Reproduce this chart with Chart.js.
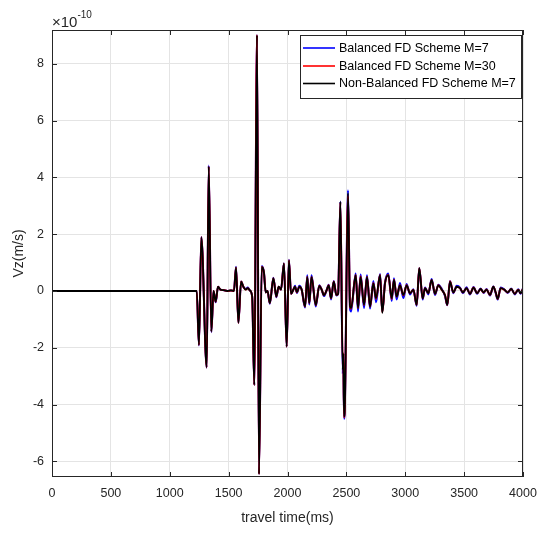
<!DOCTYPE html>
<html>
<head>
<meta charset="utf-8">
<title>Vz travel time</title>
<script src="https://cdn.jsdelivr.net/npm/chart.js@4.4.1/dist/chart.umd.min.js"></script>
<style>
    html, body { margin: 0; padding: 0; background: #ffffff; }
    #wrap { width: 549px; height: 540px; }
</style>
</head>
<body>
<div id="wrap"><canvas id="vzChart" width="549" height="540"></canvas></div>
<script>

/* =========================
DATA  (Vz in units of 1e-10 m/s)
========================= */

const timeMs = [
    0, 1229, 1248, 1268, 1314, 1331, 1353, 1372, 1390, 1410,
    1430, 1460, 1490, 1520, 1545, 1563, 1583, 1606, 1625, 1645,
    1663, 1680, 1700, 1718, 1741, 1758, 1781, 1800, 1815, 1830,
    1850, 1880, 1905, 1925, 1945, 1970, 1993, 2012, 2030, 2050,
    2064, 2080, 2100, 2120, 2149, 2168, 2185, 2204, 2240, 2270,
    2290, 2310, 2330, 2350, 2370, 2393, 2415, 2430, 2449, 2469,
    2474, 2480, 2485, 2514, 2531, 2540, 2579, 2599, 2621, 2650,
    2675, 2701, 2729, 2752, 2786, 2805, 2828, 2856, 2885, 2904,
    2927, 2955, 2984, 3012, 3040, 3069, 3097, 3119, 3148, 3168,
    3196, 3224, 3253, 3281, 3309, 3338, 3357, 3380, 3408, 3437,
    3465, 3490, 3520, 3550, 3580, 3610, 3640, 3665, 3690, 3720,
    3748, 3768, 3785, 3810, 3840, 3870, 3900, 3930, 3960, 3980,
    4000
];

const vzBalancedM7 = [
    0, 0, -1.92, 1.90, -2.70, 4.42, -1.45, 0.0, -0.40, 0.15,
    0.05, 0.03, 0.0, 0.02, 0.0, 0.85, -1.12, 0.33, 0.15, 0.07,
    0.12, 0.02, -0.2, -3.31, 9.01, -6.45, 0.88, 0.65, -0.05, 0.0,
    -0.45, 0.47, -0.22, 0.15, 0.05, 0.98, -1.96, 1.10, -0.1, 0.05,
    0.18, -0.07, 0.18, 0.05, -0.58, 0.55, -0.48, 0.55, -0.55, 0.2,
    0.05, -0.18, 0.0, 0.22, -0.3, 0.35, -0.16, -0.1, 3.15, -2.92,
    -2.3, -4.5, -4.35, 3.55, -0.62, -0.72, 0.62, -0.72, 0.58, -0.6,
    0.55, -0.62, 0.35, -0.4, 0.6, -0.72, 0.3, 0.62, -0.35, 0.45,
    -0.3, 0.28, -0.25, 0.25, -0.12, 0.06, -0.52, 0.8, -0.3, 0.12,
    -0.12, 0.42, -0.14, 0.22, 0.08, -0.18, -0.5, 0.35, -0.08, 0.18,
    0.12, -0.08, 0.13, -0.12, 0.14, -0.1, 0.09, -0.07, 0.07, -0.16,
    0.16, -0.07, -0.3, 0.12, 0.06, -0.07, 0.09, -0.12, 0.06, -0.1,
    0.1
];

const vzBalancedM30 = [
    0, 0, -1.90, 1.89, -2.69, 4.38, -1.43, 0.0, -0.38, 0.15,
    0.05, 0.03, 0.0, 0.02, 0.0, 0.83, -1.12, 0.33, 0.15, 0.05,
    0.1, 0.02, -0.2, -3.31, 9.01, -6.45, 0.85, 0.65, -0.05, 0.0,
    -0.43, 0.45, -0.2, 0.15, 0.05, 0.97, -1.96, 1.08, -0.1, 0.05,
    0.15, -0.05, 0.15, 0.05, -0.55, 0.5, -0.43, 0.5, -0.5, 0.18,
    0.05, -0.15, 0.0, 0.2, -0.26, 0.33, -0.14, -0.1, 3.12, -2.6,
    -2.2, -4.45, -4.3, 3.35, -0.55, -0.62, 0.56, -0.6, 0.52, -0.5,
    0.5, -0.55, 0.28, -0.28, 0.56, -0.75, 0.27, 0.56, -0.28, 0.4,
    -0.2, 0.2, -0.15, 0.2, -0.08, 0.04, -0.49, 0.8, -0.26, 0.1,
    -0.08, 0.39, -0.1, 0.2, 0.05, -0.15, -0.49, 0.34, -0.05, 0.15,
    0.1, -0.05, 0.1, -0.1, 0.12, -0.08, 0.07, -0.05, 0.05, -0.14,
    0.15, -0.05, -0.28, 0.1, 0.05, -0.05, 0.07, -0.1, 0.04, -0.08,
    0.08
];

const vzNonBalancedM7 = [
    0, 0, -1.90, 1.89, -2.69, 4.38, -1.43, 0.0, -0.38, 0.15,
    0.05, 0.03, 0.0, 0.02, 0.0, 0.83, -1.12, 0.33, 0.15, 0.05,
    0.1, 0.02, -0.2, -3.31, 9.01, -6.45, 0.85, 0.65, -0.05, 0.0,
    -0.43, 0.45, -0.2, 0.15, 0.05, 0.97, -1.96, 1.08, -0.1, 0.05,
    0.15, -0.05, 0.15, 0.05, -0.55, 0.5, -0.43, 0.5, -0.5, 0.18,
    0.05, -0.15, 0.0, 0.2, -0.26, 0.33, -0.14, -0.1, 3.15, -2.78,
    -2.2, -4.42, -4.3, 3.45, -0.55, -0.6, 0.56, -0.6, 0.5, -0.49,
    0.5, -0.55, 0.27, -0.26, 0.56, -0.77, 0.27, 0.56, -0.26, 0.39,
    -0.2, 0.2, -0.14, 0.2, -0.08, 0.04, -0.49, 0.8, -0.26, 0.1,
    -0.08, 0.39, -0.1, 0.2, 0.05, -0.15, -0.49, 0.33, -0.05, 0.15,
    0.1, -0.05, 0.1, -0.1, 0.12, -0.08, 0.07, -0.05, 0.05, -0.14,
    0.15, -0.05, -0.28, 0.1, 0.05, -0.05, 0.07, -0.1, 0.04, -0.08,
    0.08
];

const seriesLabels = [
    "Balanced FD Scheme M=7",
    "Balanced FD Scheme M=30",
    "Non-Balanced FD Scheme M=7"
];

const seriesColors = ["#0000ff", "#ff0000", "#000000"];

const xTickValues = [0, 500, 1000, 1500, 2000, 2500, 3000, 3500, 4000];
const yTickValues = [-6, -4, -2, 0, 2, 4, 6, 8];

const FONT = "'Liberation Sans', Arial, Helvetica, sans-serif";
const INK = "#262626";

/* =========================
HELPERS
========================= */

function toPoints(values) {

    return timeMs.map((t, i) => ({ x: t, y: values[i] }));

}

function makeDataset(index, values, order, width) {

    return {
        label: seriesLabels[index],
        data: toPoints(values),
        borderColor: seriesColors[index],
        backgroundColor: seriesColors[index],
        borderWidth: width,
        pointRadius: 0,
        cubicInterpolationMode: "monotone",
        fill: false,
        order: order
    };

}

/* =========================
AXES BOX, TICKS, EXPONENT, LEGEND
========================= */

const matlabAxes = {

    id: "matlabAxes",

    afterDatasetsDraw(chart) {

        const { ctx, chartArea: a, scales } = chart;

        ctx.save();

        ctx.strokeStyle = INK;
        ctx.lineWidth = 1;

        // inward ticks on all four sides
        ctx.beginPath();
        xTickValues.forEach(v => {
            const px = Math.round(scales.x.getPixelForValue(v)) + 0.5;
            ctx.moveTo(px, a.bottom);
            ctx.lineTo(px, a.bottom - 5);
            ctx.moveTo(px, a.top);
            ctx.lineTo(px, a.top + 5);
        });
        yTickValues.forEach(v => {
            const py = Math.round(scales.y.getPixelForValue(v)) + 0.5;
            ctx.moveTo(a.left, py);
            ctx.lineTo(a.left + 5, py);
            ctx.moveTo(a.right, py);
            ctx.lineTo(a.right - 5, py);
        });
        ctx.stroke();

        ctx.strokeRect(
            Math.round(a.left) + 0.5,
            Math.round(a.top) + 0.5,
            Math.round(a.width) - 1,
            Math.round(a.height) - 1
        );

        // exponent label
        ctx.fillStyle = INK;
        ctx.textBaseline = "alphabetic";
        ctx.textAlign = "left";
        ctx.font = "15px " + FONT;
        ctx.fillText("\u00d710", a.left, 27);
        const w = ctx.measureText("\u00d710").width;
        ctx.font = "10px " + FONT;
        ctx.fillText("-10", a.left + w, 18);

        // legend
        const box = { x: 300.5, y: 35.5, w: 221, h: 63 };
        ctx.fillStyle = "#ffffff";
        ctx.fillRect(box.x, box.y, box.w, box.h);
        ctx.strokeStyle = INK;
        ctx.strokeRect(box.x, box.y, box.w, box.h);

        ctx.font = "12.5px " + FONT;
        ctx.textBaseline = "middle";
        const rows = [48, 66, 83.5];
        seriesLabels.forEach((label, i) => {
            ctx.strokeStyle = seriesColors[i];
            ctx.lineWidth = 1.6;
            ctx.beginPath();
            ctx.moveTo(303, rows[i]);
            ctx.lineTo(335, rows[i]);
            ctx.stroke();
            ctx.fillStyle = "#000000";
            ctx.fillText(label, 339, rows[i] + 0.5);
        });

        ctx.restore();

    }

};

/* =========================
CHART
========================= */

const ctx = document.getElementById("vzChart");

new Chart(ctx, {

    type: "line",

    data: {
        datasets: [
            makeDataset(0, vzBalancedM7, 2, 2),
            makeDataset(1, vzBalancedM30, 1, 2),
            makeDataset(2, vzNonBalancedM7, 0, 1.8)
        ]
    },

    options: {

        responsive: false,
        devicePixelRatio: 1,
        animation: false,
        events: [],

        layout: {
            padding: { top: 30, right: 26, left: 0, bottom: 0 }
        },

        plugins: {
            legend: { display: false },
            tooltip: { enabled: false }
        },

        scales: {

            x: {
                type: "linear",
                min: 0,
                max: 4000,
                afterBuildTicks: s => { s.ticks = xTickValues.map(v => ({ value: v })); },
                afterFit: s => { s.height = 63; },
                grid: { color: "#e4e4e4", drawTicks: false },
                border: { display: false },
                ticks: {
                    color: INK,
                    padding: 9,
                    maxRotation: 0,
                    callback: v => String(v),
                    font: { family: FONT, size: 12.5 }
                },
                title: {
                    display: true,
                    text: "travel time(ms)",
                    color: INK,
                    padding: { top: 0, bottom: 13 },
                    font: { family: FONT, size: 14 }
                }
            },

            y: {
                type: "linear",
                min: -6.55,
                max: 9.19,
                afterBuildTicks: s => { s.ticks = yTickValues.map(v => ({ value: v })); },
                afterFit: s => { s.width = 52; },
                grid: { color: "#e4e4e4", drawTicks: false },
                border: { display: false },
                ticks: {
                    color: INK,
                    padding: 8,
                    callback: v => String(v),
                    font: { family: FONT, size: 12.5 }
                },
                title: {
                    display: true,
                    text: "Vz(m/s)",
                    color: INK,
                    padding: { top: 11, bottom: 0 },
                    font: { family: FONT, size: 14 }
                }
            }

        }

    },

    plugins: [matlabAxes]

});

</script>
</body>
</html>
